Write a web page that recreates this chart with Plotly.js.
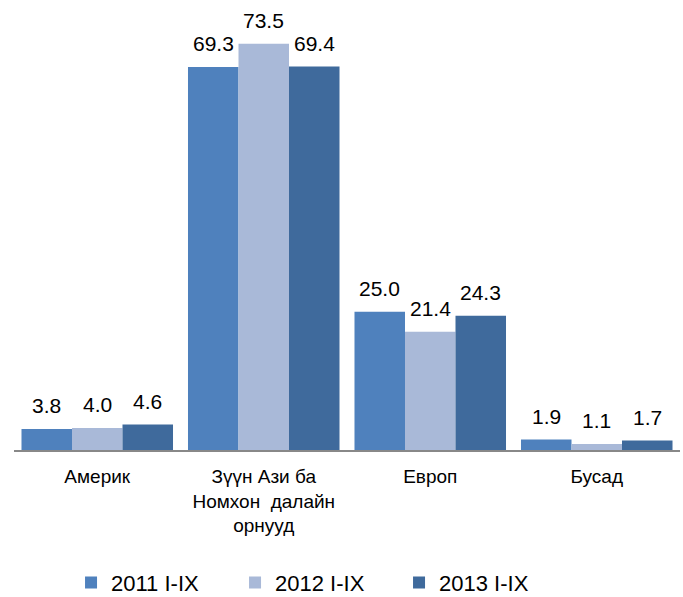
<!DOCTYPE html>
<html><head><meta charset="utf-8">
<script src="https://cdn.plot.ly/plotly-3.0.1.min.js"></script>
<style>body{margin:0;background:#fff}#c{width:683px;height:597px}</style>
</head><body><div id="c"></div>
<script>
const categories = ["Америк", "Зүүн Ази ба<br>Номхон  далайн<br>орнууд", "Европ", "Бусад"];
const seriesNames = ["2011 I-IX", "2012 I-IX", "2013 I-IX"];
const v2011 = [3.8, 69.3, 25.0, 1.9];
const v2012 = [4.0, 73.5, 21.4, 1.1];
const v2013 = [4.6, 69.4, 24.3, 1.7];
const colors = ["#4F81BD", "#A9B9D8", "#3F6A9C"];
const vals = [v2011, v2012, v2013];
const FONT = "Liberation Sans, Arial, sans-serif";
const bargap = 0.09;
const traces = vals.map((v, i) => ({
  type: "bar", x: categories, y: v, name: seriesNames[i],
  marker: {color: colors[i]}
}));
const bw = (1 - bargap) / vals.length;
const annotations = [];
vals.forEach((v, s) => {
  v.forEach((y, c) => {
    annotations.push({
      xref: "x", yref: "y", x: c + (s - (vals.length - 1) / 2) * bw, y: y,
      text: y.toFixed(1), showarrow: false, yanchor: "bottom", yshift: 10,
      font: {family: FONT, size: 21, color: "#000"}
    });
  });
});
const layout = {
  width: 683, height: 597,
  margin: {l: 14, r: 3, t: 19, b: 147},
  barmode: "group", bargap: bargap, bargroupgap: 0,
  paper_bgcolor: "#fff", plot_bgcolor: "#fff",
  font: {family: FONT, color: "#000"},
  xaxis: {showline: true, linecolor: "#888", linewidth: 2, ticks: "", showgrid: false, automargin: false,
          tickfont: {family: FONT, size: 19, color: "#000"}, ticklabelstandoff: 8},
  yaxis: {range: [0, 78], visible: false, showgrid: false, zeroline: false},
  annotations: annotations,
  showlegend: true,
  legend: {orientation: "h", xref: "container", x: 0.104, xanchor: "left",
           yref: "container", y: 0.024, yanchor: "middle",
           font: {family: FONT, size: 22, color: "#000"}, entrywidth: 119, traceorder: "normal"}
};
Plotly.newPlot("c", traces, layout, {displayModeBar: false});
</script></body></html>
